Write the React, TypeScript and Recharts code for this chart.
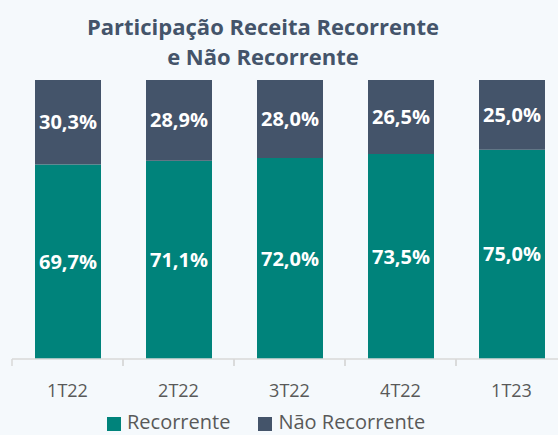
import React from 'react';
import { BarChart, Bar, XAxis, YAxis, Legend, LabelList } from 'recharts';

const quarters = ['1T22', '2T22', '3T22', '4T22', '1T23'];
const recorrente = [69.7, 71.1, 72.0, 73.5, 75.0];
const naoRecorrente = [30.3, 28.9, 28.0, 26.5, 25.0];

const data = quarters.map((q, i) => ({
  name: q,
  recorrente: recorrente[i],
  naoRecorrente: naoRecorrente[i],
}));

const TEAL = '#00837B';
const SLATE = '#44546A';
const GRID = '#D9D9D9';
const TEXT = '#595959';
const FONT = '"Open Sans", sans-serif';

const CHART_W = 570;
const CHART_H = 435;
const M_LEFT = 12;
const M_RIGHT = 3;
const BAND = (CHART_W - M_LEFT - M_RIGHT) / quarters.length;

const fmt = (v: any) => `${Number(v).toFixed(1).replace('.', ',')}%`;

const QuarterTick = (props: any) => {
  const { x, y, payload } = props;
  return (
    <g>
      <line x1={x - BAND / 2} y1={y} x2={x - BAND / 2} y2={y + 7} stroke={GRID} strokeWidth={1.5} />
      <line x1={x + BAND / 2} y1={y} x2={x + BAND / 2} y2={y + 7} stroke={GRID} strokeWidth={1.5} />
      <text x={x} y={y + 37.5} textAnchor="middle" fill={TEXT} fontSize={18} fontFamily={FONT}>
        {payload.value}
      </text>
    </g>
  );
};

const LegendBox = () => {
  const items = [
    { label: 'Recorrente', color: TEAL },
    { label: 'Não Recorrente', color: SLATE },
  ];
  return (
    <div
      style={{
        position: 'relative',
        height: 30,
        fontFamily: FONT,
        fontSize: 20,
        lineHeight: '20px',
        color: TEXT,
      }}
    >
      <div style={{ position: 'absolute', top: 7, left: 95, display: 'flex', whiteSpace: 'nowrap' }}>
        {items.map((it, i) => (
          <div key={it.label} style={{ display: 'flex', alignItems: 'flex-start', marginRight: i === 0 ? 28 : 0 }}>
            <span
              style={{ display: 'inline-block', width: 14, height: 14, background: it.color, marginTop: 5, marginRight: 6 }}
            />
            <span>{it.label}</span>
          </div>
        ))}
      </div>
    </div>
  );
};

const titleLine: React.CSSProperties = {
  position: 'absolute',
  left: 0,
  width: 526,
  textAlign: 'center',
  fontFamily: FONT,
  fontWeight: 700,
  fontSize: 22,
  lineHeight: '22px',
  color: SLATE,
  whiteSpace: 'nowrap',
};

export default function App() {
  return (
    <div
      style={{
        position: 'absolute',
        left: 0,
        top: 0,
        width: 558,
        height: 435,
        overflow: 'hidden',
        background: '#F5F9FC',
      }}
    >
      <div style={{ ...titleLine, top: 15 }}>Participação Receita Recorrente</div>
      <div style={{ ...titleLine, top: 45 }}>e Não Recorrente</div>
      <BarChart
        width={CHART_W}
        height={CHART_H}
        data={data}
        margin={{ top: 80, right: M_RIGHT, left: M_LEFT, bottom: 0 }}
      >
        <XAxis
          dataKey="name"
          height={46}
          tickLine={false}
          tickSize={0}
          tickMargin={0}
          axisLine={{ stroke: GRID, strokeWidth: 1.5 }}
          tick={<QuarterTick />}
          interval={0}
        />
        <YAxis hide domain={[0, 100]} />
        <Legend verticalAlign="bottom" content={<LegendBox />} />
        <Bar dataKey="recorrente" stackId="a" fill={TEAL} barSize={66} isAnimationActive={false}>
          <LabelList
            dataKey="recorrente"
            position="center"
            formatter={fmt}
            fill="#FFFFFF"
            fontSize={20}
            fontWeight={700}
            fontFamily={FONT}
          />
        </Bar>
        <Bar dataKey="naoRecorrente" stackId="a" fill={SLATE} barSize={66} isAnimationActive={false}>
          <LabelList
            dataKey="naoRecorrente"
            position="center"
            formatter={fmt}
            fill="#FFFFFF"
            fontSize={20}
            fontWeight={700}
            fontFamily={FONT}
          />
        </Bar>
      </BarChart>
    </div>
  );
}
